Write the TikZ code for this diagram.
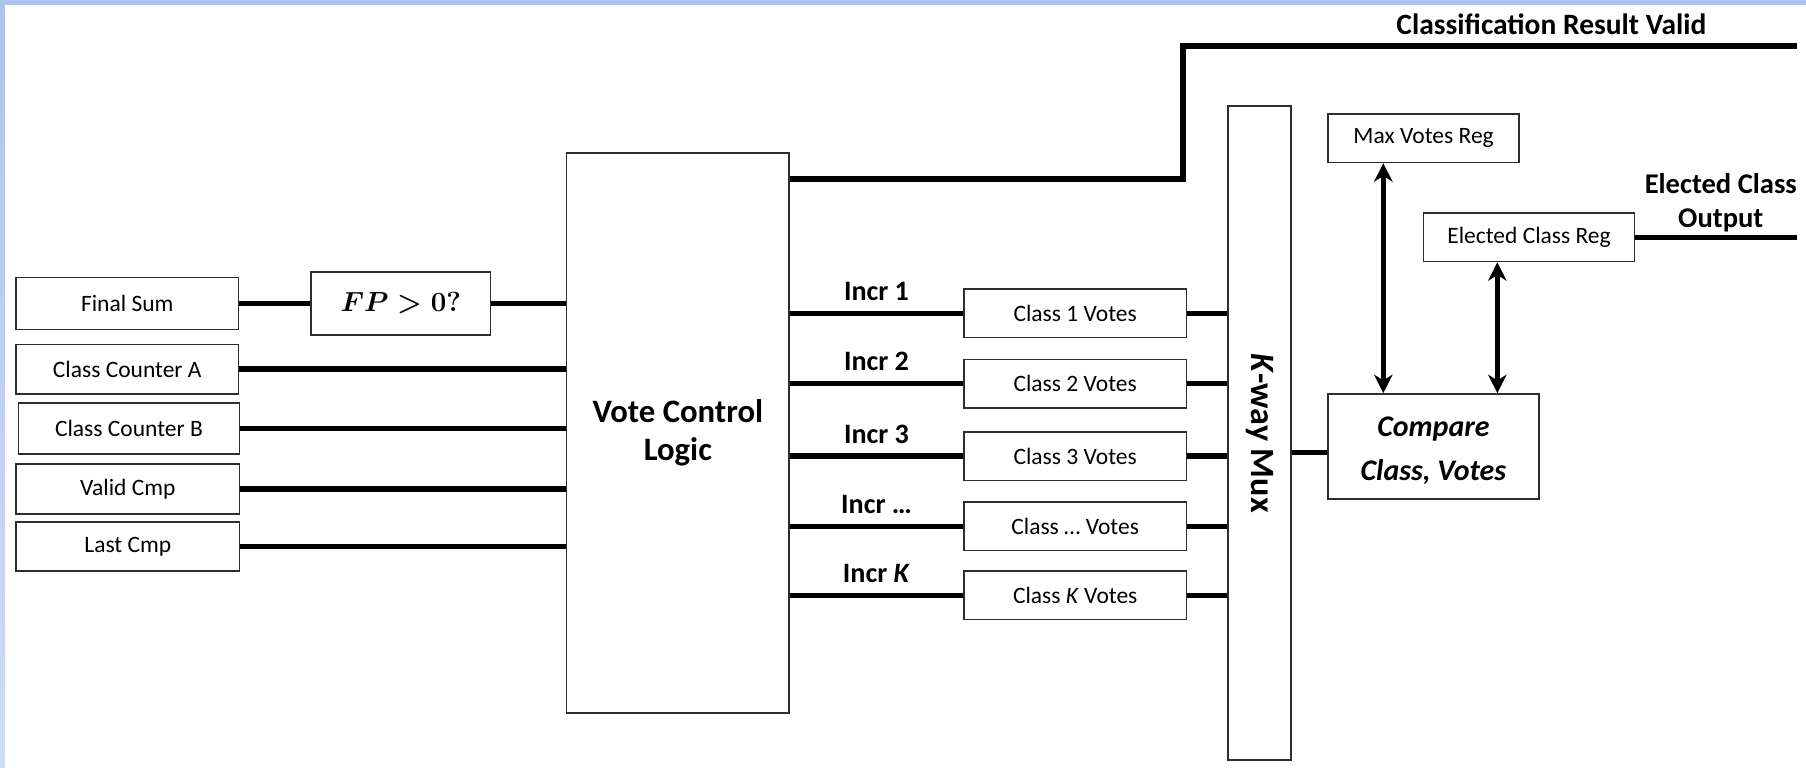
\documentclass[tikz,border=0pt]{standalone}
\usepackage{fontspec}
\setmainfont{Carlito}
\usetikzlibrary{arrows.meta,calc}
\definecolor{frameblue}{RGB}{175,196,234}
\definecolor{framelight}{RGB}{208,220,242}
\definecolor{boxline}{RGB}{45,45,45}

\begin{document}
\begin{tikzpicture}[x=0.5pt,y=-0.5pt,
  blk/.style={draw=boxline,line width=0.7pt,fill=white,inner sep=0pt,align=center,
              font=\fontsize{10.2}{12}\selectfont},
  sz/.style 2 args={minimum width=#1*0.5pt,minimum height=#2*0.5pt},
  wire/.style={line width=2.4pt},
  dbl/.style={line width=2.4pt,
              {Stealth[length=8pt,width=8pt,inset=2.5pt]}-{Stealth[length=8pt,width=8pt,inset=2.5pt]}},
  lbl/.style={font=\bfseries\fontsize{12.2}{14}\selectfont},
]
% page and frame
\useasboundingbox (0,0) rectangle (1568,666);
\fill[white] (0,0) rectangle (1568,666);
\shade[top color=frameblue,bottom color=framelight] (0,0) rectangle (4,666);
\fill[frameblue] (0,0) rectangle (1568,4);

% input registers
\node[blk,sz={193}{45}] (fsum) at (110.5,263.5) {Final Sum};
\node[blk,sz={156}{55},font=\boldmath\fontsize{13.2}{16}\selectfont] (fp) at (348,263.5) {$FP > \mathbf{0?}$};
\node[blk,sz={193}{43}] (cca) at (110.5,320.5) {Class Counter A};
\node[blk,sz={192}{44}] (ccb) at (112,372) {Class Counter B};
\node[blk,sz={194}{43}] (vcmp) at (111,424.5) {Valid Cmp};
\node[blk,sz={194}{43}] (lcmp) at (111,474.5) {Last Cmp};

% control logic
\node[blk,sz={193}{486},font=\bfseries\fontsize{14.2}{16.5}\selectfont] (vcl) at (588.5,376) {Vote Control\\Logic};

% vote counters
\node[blk,sz={193}{42}] (v1) at (933.5,272) {Class 1 Votes};
\node[blk,sz={193}{42}] (v2) at (933.5,333) {Class 2 Votes};
\node[blk,sz={193}{42}] (v3) at (933.5,396) {Class 3 Votes};
\node[blk,sz={193}{42}] (v4) at (933.5,457) {Class … Votes};
\node[blk,sz={193}{42}] (v5) at (933.5,517) {Class \textit{K} Votes};

% multiplexer
\node[blk,sz={55}{568},
      label={[rotate=-90,font=\bfseries\fontsize{14.8}{16}\selectfont]center:\textit{K}-way Mux}]
      (mux) at (1093.5,376) {};

% comparison and registers
\node[blk,sz={183}{91},
      label={[align=center,yshift=-2pt,font=\bfseries\itshape\fontsize{13}{19}\selectfont]center:Compare\\Class,\ Votes}]
      (cmp) at (1244.5,387.5) {};
\node[blk,sz={166}{42}] (maxv) at (1236,120) {Max Votes Reg};
\node[blk,sz={183}{42}] (ecr) at (1327.5,206) {Elected Class Reg};

% inputs to control logic
\draw[wire] (fsum) -- (fp);
\draw[wire] (fp.east) -- (fp.east -| vcl.west);
\foreach \n in {cca,ccb,vcmp,lcmp}
  \draw[wire] (\n.east) -- (\n.east -| vcl.west);

% result valid output
\coordinate (bend) at (1027,40);
\coordinate (crv) at (1560,40);
\draw[wire] ($(vcl.north east)+(0,23)$) -| (bend) -- (crv);
\node[lbl,font=\bfseries\fontsize{12.8}{14}\selectfont] (crvl) at (1347,21) {Classification Result Valid};

% increment lines
\draw[wire] (v1.west -| vcl.east) -- node[lbl,above=1pt] {Incr 1} (v1.west);
\draw[wire] (v2.west -| vcl.east) -- node[lbl,above=1pt] {Incr 2} (v2.west);
\draw[wire] (v3.west -| vcl.east) -- node[lbl,above=1pt] {Incr 3} (v3.west);
\draw[wire] (v4.west -| vcl.east) -- node[lbl,above=1pt] {Incr …} (v4.west);
\draw[wire] (v5.west -| vcl.east) -- node[lbl,above=1pt] {Incr \textit{K}} (v5.west);

% counters into multiplexer
\foreach \n in {v1,v2,v3,v4,v5}
  \draw[wire] (\n.east) -- (\n.east -| mux.west);
\draw[wire] ([yshift=-2.75pt]cmp.west -| mux.east) -- ([yshift=-2.75pt]cmp.west);

% register read/write
\coordinate (ax1) at (1201,0);
\coordinate (ax2) at (1300,0);
\draw[dbl] (ax1 |- maxv.south) -- (ax1 |- cmp.north);
\draw[dbl] (ax2 |- ecr.south) -- (ax2 |- cmp.north);

% elected class output
\coordinate (eout) at (1560,206);
\draw[wire] (ecr.east) -- (eout);
\node[lbl,align=center,font=\bfseries\fontsize{12.4}{14.5}\selectfont] (eoutl) at (1494,176) {Elected Class\\Output};
\end{tikzpicture}
\end{document}
